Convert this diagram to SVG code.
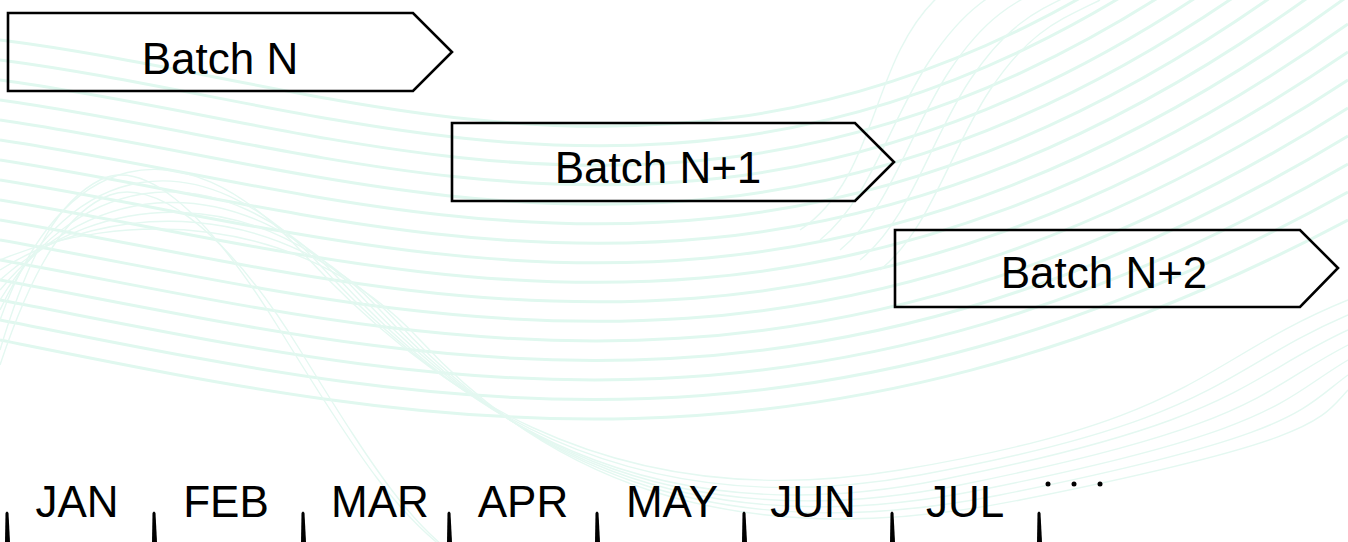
<svg xmlns="http://www.w3.org/2000/svg" width="1348" height="542" viewBox="0 0 1348 542">
<style>
.bg{fill:none;stroke:#e0f8ef;stroke-width:3}
.bgt{fill:none;stroke:#e4f8f1;stroke-width:1.4}
.box{fill:none;stroke:#000;stroke-width:2.6;stroke-linejoin:miter}
.lbl{font-family:"Liberation Sans",Arial,sans-serif;font-size:44px;fill:#000;text-anchor:middle}
.tick{fill:#000}
</style>
<rect width="1348" height="542" fill="#fff"/>
<g id="background">
<path class="bg" d="M0,40 C400,90 800,300 1348,-200"/>
<path class="bg" d="M0,60 C400,112 800,314 1348,-172"/>
<path class="bg" d="M0,80 C400,134 800,328 1348,-144"/>
<path class="bg" d="M0,100 C400,156 800,342 1348,-116"/>
<path class="bg" d="M0,120 C400,178 800,356 1348,-88"/>
<path class="bg" d="M0,140 C400,200 800,370 1348,-60"/>
<path class="bg" d="M0,160 C400,222 800,384 1348,-32"/>
<path class="bg" d="M0,180 C400,244 800,398 1348,-4"/>
<path class="bg" d="M0,200 C400,266 800,412 1348,24"/>
<path class="bg" d="M0,220 C400,288 800,426 1348,52"/>
<path class="bg" d="M0,240 C400,310 800,440 1348,80"/>
<path class="bg" d="M0,260 C400,332 800,454 1348,108"/>
<path class="bg" d="M0,280 C400,354 800,468 1348,136"/>
<path class="bg" d="M0,300 C400,376 800,482 1348,164"/>
<path class="bg" d="M0,320 C400,398 800,496 1348,192"/>
<path class="bg" d="M0,340 C400,420 800,510 1348,220"/>
<path class="bgt" d="M0,320 C60,150 180,120 300,250 S600,520 900,470 S1200,360 1348,300"/>
<path class="bgt" d="M0,310 C70,160 200,135 320,265 S620,530 920,475 S1220,370 1348,315"/>
<path class="bgt" d="M0,300 C80,170 220,150 340,280 S640,540 940,480 S1240,380 1348,330"/>
<path class="bgt" d="M0,290 C90,180 240,165 360,295 S660,545 960,485 S1260,390 1348,345"/>
<path class="bgt" d="M0,280 C100,190 260,180 380,310 S680,550 980,490 S1280,400 1348,360"/>
<path class="bgt" d="M0,270 C110,200 280,195 400,325 S700,555 1000,495 S1300,410 1348,375"/>
<path class="bgt" d="M0,260 C120,210 300,210 420,340 S720,560 1020,500 S1320,420 1348,390"/>
<path class="bgt" d="M0,350 C30,250 60,200 100,180 S200,200 280,330 S400,520 460,560"/>
<path class="bgt" d="M0,365 C35,260 70,210 110,195 S220,220 300,350 S420,540 480,570"/>
<path class="bgt" d="M820,240 C870,200 890,120 930,60 S1000,-10 1040,-30"/>
<path class="bgt" d="M840,250 C890,210 910,130 950,70 S1020,0 1060,-20"/>
<path class="bgt" d="M860,260 C910,220 930,140 970,80 S1040,10 1080,-10"/>
<path class="bgt" d="M880,270 C930,230 950,150 990,90 S1060,20 1100,0"/>
<path class="bgt" d="M800,230 C860,190 870,110 900,50 S960,-20 1000,-40"/>
</g>
<g id="batch-n">
<polygon class="box" points="8,13 413,13 452,52 413,91 8,91"/>
<text class="lbl" x="220" y="74">Batch N</text>
</g>
<g id="batch-n1">
<polygon class="box" points="452,123 855,123 894,162 855,201 452,201"/>
<text class="lbl" x="658" y="183">Batch N+1</text>
</g>
<g id="batch-n2">
<polygon class="box" points="895,230 1300,230 1338,268 1300,307 895,307"/>
<text class="lbl" x="1104" y="288">Batch N+2</text>
</g>
<g id="timeline">
<g id="ticks">
<path class="tick" d="M5.5,513 Q7,510 8.5,513 L10,542 L5,542 Z"/>
<path class="tick" d="M152.5,513 Q154,510 155.5,513 L157,542 L152,542 Z"/>
<path class="tick" d="M301.5,513 Q303,510 304.5,513 L306,542 L301,542 Z"/>
<path class="tick" d="M447.5,513 Q449,510 450.5,513 L452,542 L447,542 Z"/>
<path class="tick" d="M595.5,513 Q597,510 598.5,513 L600,542 L595,542 Z"/>
<path class="tick" d="M742.5,513 Q744,510 745.5,513 L747,542 L742,542 Z"/>
<path class="tick" d="M890.5,513 Q892,510 893.5,513 L895,542 L890,542 Z"/>
<path class="tick" d="M1037.5,513 Q1039,510 1040.5,513 L1042,542 L1037,542 Z"/>
</g>
<text class="lbl" x="77" y="517">JAN</text>
<text class="lbl" x="226" y="517">FEB</text>
<text class="lbl" x="380" y="517">MAR</text>
<text class="lbl" x="523" y="517">APR</text>
<text class="lbl" x="672" y="517">MAY</text>
<text class="lbl" x="813" y="517">JUN</text>
<text class="lbl" x="965" y="517">JUL</text>
<circle cx="1048" cy="484" r="2.5"/>
<circle cx="1074" cy="484" r="2.5"/>
<circle cx="1100" cy="484" r="2.5"/>
</g>
</svg>
